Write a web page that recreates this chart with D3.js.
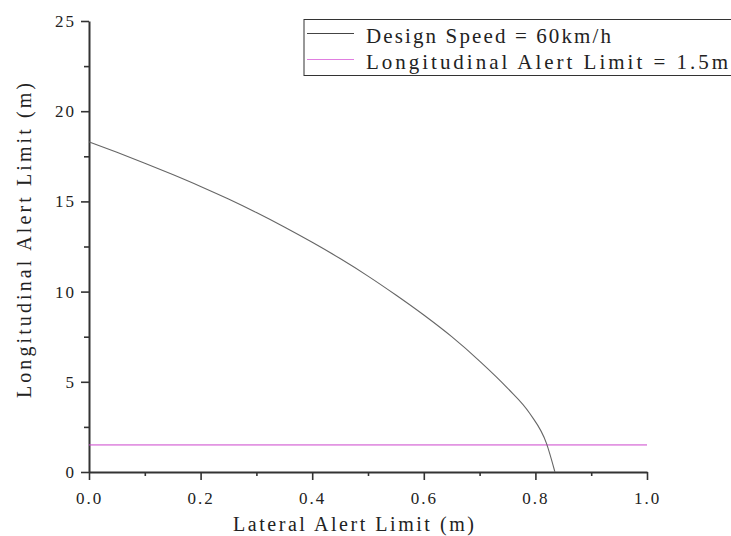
<!DOCTYPE html>
<html>
<head>
<meta charset="utf-8">
<script src="https://cdn.jsdelivr.net/npm/d3@7"></script>
<style>
  body { margin: 0; background: #fff; }
  text { font-family: "Liberation Serif", "DejaVu Serif", serif; fill: #222; }
</style>
</head>
<body>
<div id="chart"></div>
<script>
// lateral alert limit (m)
const lateral = [0, 0.05, 0.1, 0.15, 0.2, 0.25, 0.3, 0.35, 0.4, 0.45, 0.5, 0.55, 0.6, 0.65, 0.7, 0.75, 0.79, 0.82, 0.835];
// longitudinal alert limit (m) for design speed 60km/h
const longitudinal = [18.3, 17.72, 17.12, 16.49, 15.83, 15.13, 14.38, 13.58, 12.73, 11.83, 10.86, 9.81, 8.7, 7.5, 6.15, 4.65, 3.24, 1.57, 0];
// constant longitudinal limit line
const limitX = [0, 1];
const limitY = [1.5, 1.5];

const xTicks = [0, 0.2, 0.4, 0.6, 0.8, 1.0];
const yTicks = [0, 5, 10, 15, 20, 25];
const legendLabels = ["Design Speed = 60km/h", "Longitudinal Alert Limit = 1.5m"];
const legendWidths = [245, 362];
const seriesColors = ["#666666", "#cc44cc"];

const width = 731, height = 536;
const margin = { left: 89, right: 84, top: 21, bottom: 64 };

const svg = d3.select("#chart")
  .append("svg")
  .attr("width", width)
  .attr("height", height);

const x = d3.scaleLinear().domain([0, 1]).range([margin.left, width - margin.right]);
const y = d3.scaleLinear().domain([0, 25]).range([height - margin.bottom, margin.top]);

// minor ticks first, then majors on top
svg.append("g")
  .attr("transform", `translate(0,${y(0)})`)
  .call(d3.axisBottom(x).tickValues(d3.range(0.1, 1, 0.2)).tickSize(4).tickFormat(""))
  .call(g => g.select(".domain").remove());
svg.append("g")
  .attr("transform", `translate(${x(0)},0)`)
  .call(d3.axisLeft(y).tickValues(d3.range(2.5, 25, 5)).tickSize(5).tickFormat(""))
  .call(g => g.select(".domain").remove());

svg.append("g")
  .attr("transform", `translate(0,${y(0)})`)
  .call(d3.axisBottom(x).tickValues(xTicks).tickSize(8).tickSizeOuter(0).tickPadding(12).tickFormat(d3.format(".1f")));
svg.append("g")
  .attr("transform", `translate(${x(0)},0)`)
  .call(d3.axisLeft(y).tickValues(yTicks).tickSize(8).tickSizeOuter(0).tickPadding(5));

svg.selectAll(".tick line, .domain").attr("stroke", "#333").attr("stroke-width", 1.6);
svg.selectAll(".domain").attr("stroke-width", 2);
svg.selectAll(".tick text")
  .style("font-size", "17px")
  .style("letter-spacing", "2px")
  .attr("fill", "#222");

// axis titles
svg.append("text")
  .attr("x", 233)
  .attr("y", 531)
  .attr("textLength", 241)
  .attr("lengthAdjust", "spacing")
  .style("font-size", "20px")
  .text("Lateral Alert Limit (m)");
svg.append("text")
  .attr("transform", `translate(31,398) rotate(-90)`)
  .attr("textLength", 315)
  .attr("lengthAdjust", "spacing")
  .style("font-size", "20px")
  .text("Longitudinal Alert Limit (m)");

const line = d3.line().x(d => x(d[0])).y(d => y(d[1]));

svg.append("path")
  .datum(d3.zip(limitX, limitY))
  .attr("d", line)
  .attr("fill", "none")
  .attr("stroke", seriesColors[1])
  .attr("stroke-width", 1);

svg.append("path")
  .datum(d3.zip(lateral, longitudinal))
  .attr("d", line.curve(d3.curveMonotoneX))
  .attr("fill", "none")
  .attr("stroke", seriesColors[0])
  .attr("stroke-width", 1.1);

// legend
const legend = svg.append("g").attr("transform", "translate(304,19.5)");
legend.append("rect")
  .attr("width", 432)
  .attr("height", 56)
  .attr("fill", "#fff")
  .attr("stroke", "#333")
  .attr("stroke-width", 1);
legendLabels.forEach((lab, i) => {
  const cy = 14 + i * 26;
  legend.append("line")
    .attr("x1", 3).attr("x2", 50)
    .attr("y1", cy).attr("y2", cy)
    .attr("stroke", i === 0 ? "#444" : "#e07ee0")
    .attr("stroke-width", 1.2);
  legend.append("text")
    .attr("x", 62)
    .attr("y", cy + 9.5)
    .attr("textLength", legendWidths[i])
    .attr("lengthAdjust", "spacing")
    .style("font-size", "21px")
    .text(lab);
});
</script>
</body>
</html>
